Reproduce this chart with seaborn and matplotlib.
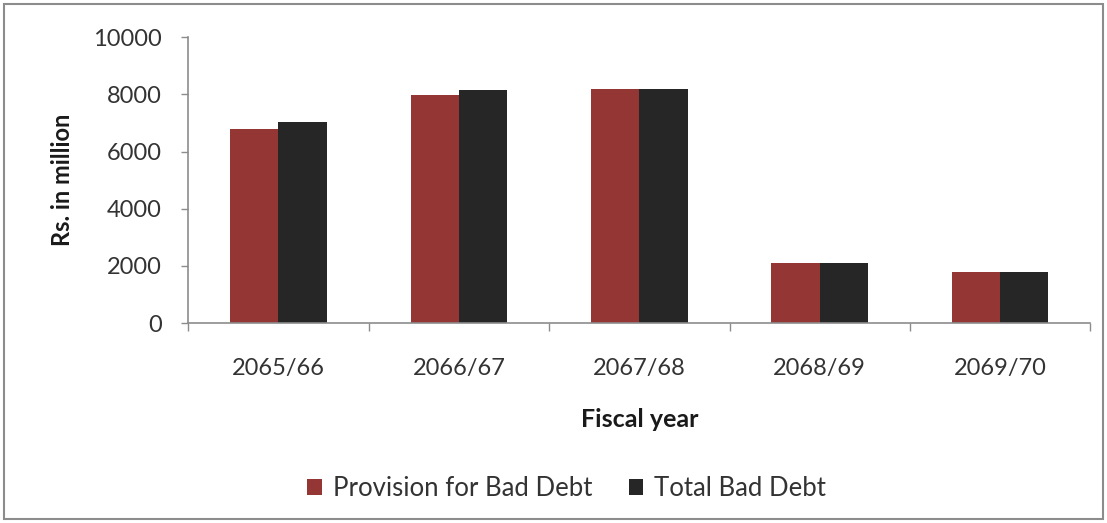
import matplotlib
matplotlib.use("Agg")
import matplotlib.pyplot as plt
from matplotlib.patches import Rectangle
import numpy as np
import pandas as pd
import seaborn as sns

years = ["2065/66", "2066/67", "2067/68", "2068/69", "2069/70"]
provision = [6780, 7970, 8180, 2110, 1800]
total_bad_debt = [7040, 8140, 8180, 2110, 1800]
series_names = ["Provision for Bad Debt", "Total Bad Debt"]
colors = ["#943634", "#262626"]

df = pd.DataFrame({
    "Fiscal year": years * 2,
    "value": provision + total_bad_debt,
    "series": [series_names[0]] * len(years) + [series_names[1]] * len(years),
})

sns.set_theme(style="white")
plt.rcParams["font.family"] = ["Lato", "DejaVu Sans"]

text_color = "#333333"
fs = 17

fig = plt.figure(figsize=(11.07, 5.23), dpi=100)
ax = fig.add_axes([0.170, 0.382, 0.815, 0.547])

sns.barplot(data=df, x="Fiscal year", y="value", hue="series",
            palette=colors, width=0.535, gap=0, saturation=1,
            edgecolor="none", linewidth=0, ax=ax, legend=False)

ax.set_xlim(-0.5, len(years) - 0.5)
ax.set_ylim(0, 10000)
ax.set_yticks(np.arange(0, 10001, 2000))
ax.tick_params(axis="y", labelsize=fs, length=5, width=1, color="#8c8c8c",
               direction="out", left=True, pad=14, labelcolor=text_color)
# category labels centered, tick marks between categories
ax.tick_params(axis="x", which="major", length=0, labelsize=fs, pad=25,
               labelcolor=text_color)
ax.set_xticks(np.arange(-0.5, len(years) + 0.5, 1), minor=True)
ax.tick_params(axis="x", which="minor", length=6, width=1, color="#8c8c8c",
               direction="out", bottom=True)

for side in ["top", "right"]:
    ax.spines[side].set_visible(False)
for side in ["left", "bottom"]:
    ax.spines[side].set_color("#8c8c8c")
    ax.spines[side].set_linewidth(1.2)

ax.set_xlabel("Fiscal year", fontsize=18, fontweight="bold", labelpad=21,
              color="#1a1a1a")
ax.set_ylabel("Rs. in million", fontsize=fs, fontweight="bold", labelpad=14,
              color="#1a1a1a")

handles = [Rectangle((0, 0), 1, 1, facecolor=c, edgecolor="none") for c in colors]
fig.legend(handles, series_names, loc="center", bbox_to_anchor=(0.512, 0.066),
           ncol=2, frameon=False, fontsize=18.5, handlelength=0.55,
           handleheight=0.55, handletextpad=0.45, columnspacing=1.4,
           labelcolor=text_color)

fig.patches.append(Rectangle((0.004, 0.008), 0.992, 0.984, transform=fig.transFigure,
                             fill=False, edgecolor="#8c8c8c", linewidth=1.5))

fig.savefig("out.png", dpi=100, facecolor="white")
